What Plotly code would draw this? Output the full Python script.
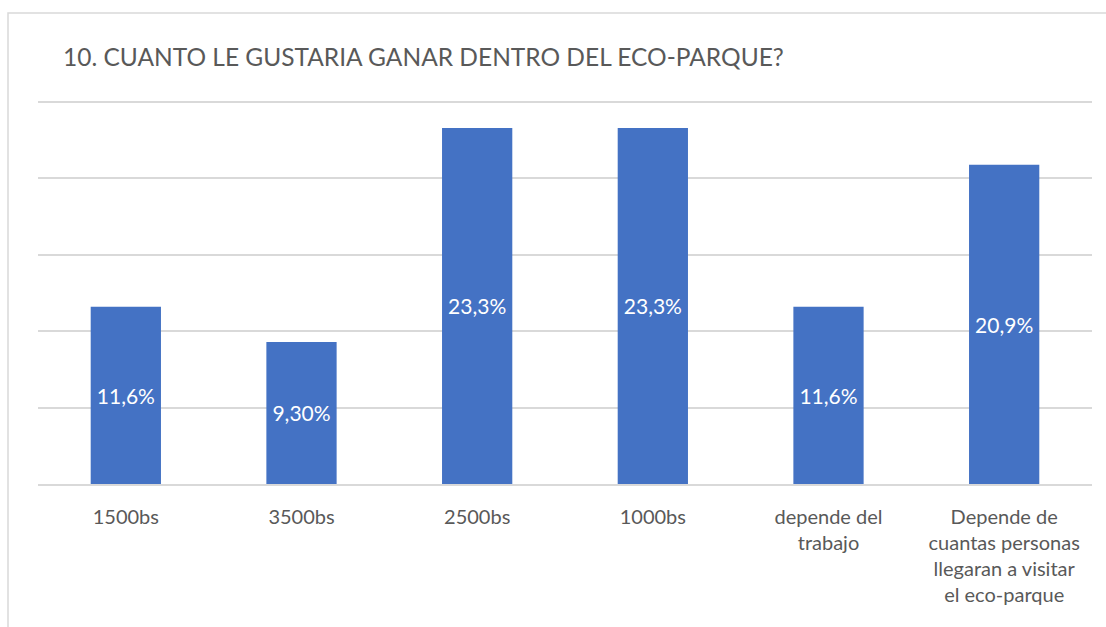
import plotly.graph_objects as go

categories = ["1500bs", "3500bs", "2500bs", "1000bs", "depende del<br>trabajo",
              "Depende de<br>cuantas personas<br>llegaran a visitar<br>el eco-parque"]
values = [11.6, 9.3, 23.3, 23.3, 11.6, 20.9]
value_labels = ["11,6%", "9,30%", "23,3%", "23,3%", "11,6%", "20,9%"]

W, H = 1106, 627
L, R, T, B = 38, 14, 97, 143
pw, ph = W - L - R, H - T - B
# 25 % sits at 102 px; leave a little headroom so its gridline is drawn
YMAX = 25 * ph / (H - B - 102)

def px_x(x):
    return (x - L) / pw

def px_y(y):
    return (H - B - y) / ph

fig = go.Figure(go.Bar(
    x=categories, y=values, text=value_labels,
    marker=dict(color="#4472c4", line=dict(width=0)),
    textposition="inside", insidetextanchor="middle",
    textfont=dict(color="white", size=21, family="Lato"),
    textangle=0, width=0.4,
))

fig.update_layout(
    width=W, height=H,
    margin=dict(l=L, r=R, t=T, b=B),
    paper_bgcolor="white", plot_bgcolor="white",
    showlegend=False,
    font=dict(family="Lato", color="#595959"),
    uniformtext=dict(minsize=8, mode=False),
    xaxis=dict(showline=True, linecolor="#d9d9d9", linewidth=1.5,
               tickfont=dict(size=20, color="#595959"), ticks="",
               ticklabelstandoff=14, fixedrange=True),
    yaxis=dict(range=[0, YMAX], tickvals=[0, 5, 10, 15, 20, 25], showticklabels=False,
               showgrid=True, gridcolor="#d9d9d9", gridwidth=1.5,
               zeroline=False, fixedrange=True),
    shapes=[dict(type="rect", xref="paper", yref="paper",
                 x0=px_x(8), x1=px_x(W + 20), y0=px_y(H + 20), y1=px_y(13),
                 line=dict(color="#d9d9d9", width=1.5), layer="below")],
    annotations=[dict(text="10. CUANTO LE GUSTARIA GANAR DENTRO DEL ECO-PARQUE?",
                      xref="paper", yref="paper", x=px_x(61), y=px_y(57),
                      xanchor="left", yanchor="middle", showarrow=False,
                      font=dict(size=24.5, color="#595959", family="Lato"))],
)

fig.write_html("out.html")
